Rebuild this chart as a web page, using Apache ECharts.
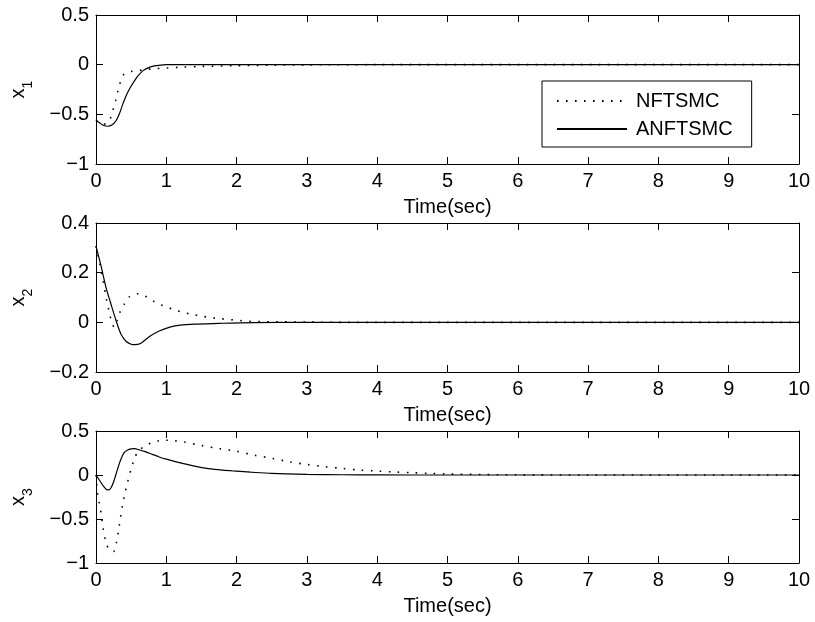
<!DOCTYPE html>
<html><head><meta charset="utf-8">
<script src="https://cdn.jsdelivr.net/npm/echarts@6/dist/echarts.min.js"></script>
<style>html,body{margin:0;padding:0;background:#fff}#c{width:815px;height:622px}</style>
</head><body><div id="c"></div>
<script>
// ---------- data ----------
const seriesNames = ['NFTSMC', 'ANFTSMC'];
const xTickLabels = ['0','1','2','3','4','5','6','7','8','9','10'];
const xName = 'Time(sec)';
const y1Ticks = [-1, -0.5, 0, 0.5];
const y2Ticks = [-0.2, 0, 0.2, 0.4];
const y3Ticks = [-1, -0.5, 0, 0.5];
const ySubscripts = ['1', '2', '3'];

// x1
const t1N = [0, 0.05, 0.1, 0.15, 0.2, 0.24, 0.28, 0.31, 0.34, 0.37, 0.4, 0.45, 0.5, 0.6, 0.7, 0.85, 1.0, 1.2, 1.5, 2.0, 2.5, 3, 4, 10];
const x1N = [-0.56, -0.58, -0.6, -0.59, -0.55, -0.46, -0.36, -0.27, -0.19, -0.13, -0.095, -0.075, -0.068, -0.06, -0.05, -0.04, -0.034, -0.026, -0.018, -0.01, -0.005, -0.002, 0, 0];
const t1A = [0, 0.05, 0.1, 0.17, 0.23, 0.28, 0.33, 0.38, 0.43, 0.48, 0.54, 0.6, 0.67, 0.75, 0.83, 0.92, 1.0, 1.5, 10];
const x1A = [-0.56, -0.585, -0.61, -0.62, -0.605, -0.57, -0.5, -0.40, -0.31, -0.24, -0.17, -0.11, -0.06, -0.03, -0.013, -0.004, 0, 0, 0];

// x2
const t2N = [0, 0.05, 0.1, 0.15, 0.19, 0.22, 0.26, 0.3, 0.34, 0.4, 0.47, 0.55, 0.6, 0.7, 0.82, 0.94, 1.1, 1.24, 1.37, 1.5, 1.63, 1.76, 1.9, 2.05, 2.2, 2.35, 2.6, 3, 3.5, 10];
const x2N = [0.307, 0.24, 0.17, 0.09, 0.04, 0.005, -0.02, 0.008, 0.04, 0.072, 0.102, 0.114, 0.115, 0.105, 0.085, 0.069, 0.052, 0.04, 0.032, 0.025, 0.019, 0.015, 0.011, 0.007, 0.004, 0.003, 0.002, 0.001, 0, 0];
const t2A = [0, 0.07, 0.14, 0.21, 0.29, 0.36, 0.43, 0.5, 0.55, 0.64, 0.76, 0.9, 1.05, 1.2, 1.43, 1.76, 2.24, 3, 10];
const x2A = [0.307, 0.229, 0.143, 0.076, 0.003, -0.05, -0.077, -0.088, -0.09, -0.084, -0.057, -0.035, -0.019, -0.011, -0.007, -0.004, -0.001, 0, 0];

// x3
const t3N = [0, 0.025, 0.05, 0.075, 0.1, 0.125, 0.15, 0.2, 0.25, 0.29, 0.32, 0.35, 0.38, 0.41, 0.45, 0.5, 0.55, 0.6, 0.7, 0.8, 0.9, 1.0, 1.1, 1.25, 1.5, 1.75, 2.0, 2.25, 2.5, 2.75, 3.0, 3.25, 3.5, 3.75, 4.0, 4.25, 4.5, 4.75, 5, 5.5, 6, 7, 10];
const x3N = [0, -0.23, -0.33, -0.45, -0.6, -0.71, -0.79, -0.86, -0.87, -0.77, -0.63, -0.48, -0.33, -0.21, -0.08, 0.07, 0.19, 0.27, 0.33, 0.37, 0.39, 0.395, 0.39, 0.375, 0.335, 0.3, 0.27, 0.225, 0.19, 0.15, 0.12, 0.094, 0.075, 0.056, 0.045, 0.034, 0.026, 0.018, 0.011, 0.005, 0.002, 0, 0];
const t3A = [0, 0.05, 0.1, 0.15, 0.18, 0.21, 0.25, 0.3, 0.35, 0.4, 0.45, 0.5, 0.55, 0.6, 0.7, 0.8, 0.9, 1.0, 1.2, 1.4, 1.6, 1.8, 2.0, 2.2, 2.5, 3, 3.5, 4, 5, 10];
const x3A = [0, -0.06, -0.12, -0.165, -0.17, -0.15, -0.08, 0.05, 0.17, 0.255, 0.285, 0.297, 0.3, 0.29, 0.265, 0.235, 0.205, 0.18, 0.137, 0.1, 0.072, 0.055, 0.043, 0.032, 0.018, 0.008, 0.003, 0.001, 0, 0];

// ---------- chart ----------
const FONT = 'Liberation Sans, Arial, Helvetica, sans-serif';
const zip = (t, v) => t.map((x, i) => [x, v[i]]);
const panels = [
  { top: 15, height: 149, ticks: y1Ticks, sub: ySubscripts[0], N: zip(t1N, x1N), A: zip(t1A, x1A) },
  { top: 223, height: 149, ticks: y2Ticks, sub: ySubscripts[1], N: zip(t2N, x2N), A: zip(t2A, x2A) },
  { top: 431, height: 132, ticks: y3Ticks, sub: ySubscripts[2], N: zip(t3N, x3N), A: zip(t3A, x3A) }
];
const fmtY = v => String(v).replace('-', '\u2212');
const grid = [], xAxis = [], yAxis = [], series = [];
const axisLine = { show: true, onZero: false, lineStyle: { color: '#000', width: 1 } };
const tick = { show: true, inside: true, length: 7, lineStyle: { color: '#000', width: 1 } };
panels.forEach((p, i) => {
  grid.push({ left: 95, right: 16, top: p.top, height: p.height });
  const ymin = p.ticks[0], ymax = p.ticks[p.ticks.length - 1], yint = p.ticks[1] - p.ticks[0];
  const xmin = +xTickLabels[0], xmax = +xTickLabels[xTickLabels.length - 1];
  xAxis.push({
    type: 'value', gridIndex: i, min: xmin, max: xmax, interval: 1, position: 'bottom',
    axisLine, axisTick: tick, splitLine: { show: false },
    axisLabel: { color: '#000', fontSize: 20, fontFamily: FONT, margin: 7 },
    name: xName, nameLocation: 'middle', nameGap: 33,
    nameTextStyle: { color: '#000', fontSize: 20, fontFamily: FONT }
  });
  xAxis.push({
    type: 'value', gridIndex: i, min: xmin, max: xmax, interval: 1, position: 'top',
    axisLine, axisTick: tick, splitLine: { show: false }, axisLabel: { show: false }
  });
  yAxis.push({
    type: 'value', gridIndex: i, min: ymin, max: ymax, interval: yint, position: 'left',
    axisLine, axisTick: tick, splitLine: { show: false },
    axisLabel: { color: '#000', fontSize: 20, fontFamily: FONT, margin: 7, formatter: fmtY },
    name: '{x|x}{s|' + p.sub + '}', nameLocation: 'middle', nameRotate: 90, nameGap: 47,
    nameTextStyle: {
      color: '#000', fontFamily: FONT,
      rich: {
        x: { fontSize: 20, lineHeight: 20, verticalAlign: 'top', fontFamily: FONT, color: '#000' },
        s: { fontSize: 14, lineHeight: 41, verticalAlign: 'middle', fontFamily: FONT, color: '#000' }
      }
    }
  });
  yAxis.push({
    type: 'value', gridIndex: i, min: ymin, max: ymax, interval: yint, position: 'right',
    axisLine, axisTick: tick, splitLine: { show: false }, axisLabel: { show: false }
  });
  series.push({
    name: seriesNames[0], type: 'line', xAxisIndex: 2 * i, yAxisIndex: 2 * i,
    data: p.N, symbol: 'none', smooth: 0.3, animation: false,
    lineStyle: { color: '#000', width: 1.6, type: [1.6, 7.4] }, itemStyle: { color: '#000' }
  });
  series.push({
    name: seriesNames[1], type: 'line', xAxisIndex: 2 * i, yAxisIndex: 2 * i,
    data: p.A, symbol: 'none', smooth: 0.3, animation: false,
    lineStyle: { color: '#000', width: 1.2, type: 'solid' }, itemStyle: { color: '#000' }
  });
});

const chart = echarts.init(document.getElementById('c'), null, { renderer: 'canvas' });
chart.setOption({
  backgroundColor: '#fff',
  animation: false,
  grid, xAxis, yAxis, series,
  legend: {
    data: seriesNames, orient: 'vertical', left: 542, top: 81,
    itemWidth: 70, itemHeight: 14, itemGap: 6, padding: [9, 19, 7, 14],
    borderColor: '#000', borderWidth: 1, backgroundColor: '#fff', selectedMode: false,
    itemStyle: { color: 'rgba(0,0,0,0)', borderWidth: 0, opacity: 0 },
    textStyle: { fontSize: 20, fontFamily: FONT, color: '#000', lineHeight: 22, padding: [0, 0, 0, 4] }
  }
});
</script></body></html>
